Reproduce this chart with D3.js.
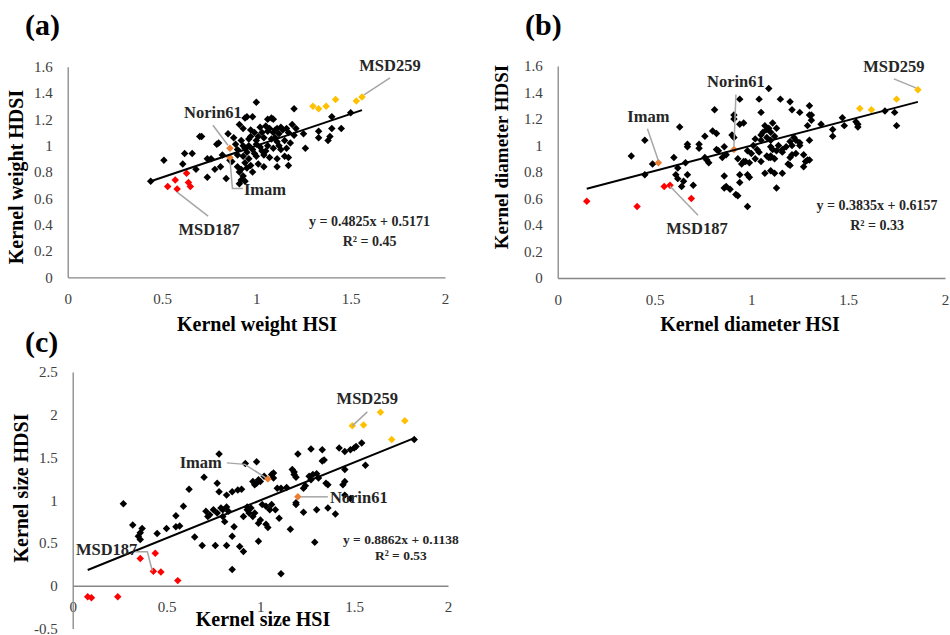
<!DOCTYPE html>
<html><head><meta charset="utf-8">
<script src="https://cdn.jsdelivr.net/npm/d3@7"></script>
<style>body{margin:0;background:#fff} svg{display:block} text{font-family:"Liberation Serif","Times New Roman",serif}</style>
</head><body><svg id="chart" width="950" height="635"></svg>
<script>
// ---------------- DATA ----------------
const xTicks = [0, 0.5, 1, 1.5, 2];
const yTicksAB = [0, 0.2, 0.4, 0.6, 0.8, 1, 1.2, 1.4, 1.6];
const yTicksC = [-0.5, 0, 0.5, 1, 1.5, 2, 2.5];
const panelLetters = ["(a)", "(b)", "(c)"];
const xTitles = ["Kernel weight HSI", "Kernel diameter HSI", "Kernel size HSI"];
const yTitles = ["Kernel weight HDSI", "Kernel diameter HDSI", "Kernel size HDSI"];
const fitSlopes = [0.4825, 0.3835, 0.8862];
const fitIntercepts = [0.5171, 0.6157, 0.1138];
const fitR2 = [0.45, 0.33, 0.53];

// (a) Kernel weight
const weightBlack = [
 [0.44,0.73],[0.51,0.89],[0.61,0.86],[0.62,0.94],[0.66,0.94],[0.70,1.07],[0.71,1.07],[0.68,0.82],[0.74,0.76],[0.74,0.90],
 [0.76,0.90],[0.78,0.82],[0.79,1.01],[0.80,1.02],[0.81,0.84],[0.82,0.93],[0.84,0.75],[0.85,1.09],[0.87,0.88],[0.86,0.89],
 [0.90,0.84],[0.91,0.80],[0.93,0.77],[0.91,0.71],[0.92,0.74],[0.94,0.73],
 [0.94,1.21],[0.95,1.22],[0.98,1.22],[1.00,1.33],[1.06,1.20],[1.08,1.21],[1.09,1.20],[1.20,1.28],[1.19,1.16],[1.21,1.13],
 [1.26,0.98],[1.25,1.09],[1.33,1.11],[1.33,1.06],[1.40,1.22],[1.40,1.13],[1.39,1.07],[1.38,1.04],[1.45,1.13],[1.50,1.25],
 [1.02,1.14],[1.05,1.15],[1.07,1.13],[1.11,1.13],[1.13,1.14],[1.16,1.13],[0.91,1.16],[0.93,1.13],
 [0.99,1.10],[1.03,1.10],[1.06,1.11],[1.09,1.10],[1.12,1.09],[1.17,1.10],[1.14,1.12],[1.10,1.12],
 [0.88,1.06],[0.92,1.04],[0.96,1.05],[1.00,1.04],[1.04,1.06],[1.08,1.05],[1.11,1.03],[1.15,1.04],[1.18,1.02],[0.97,1.07],[1.01,1.07],
 [0.90,0.97],[0.94,0.98],[0.98,0.97],[1.02,0.99],[1.05,0.96],[1.09,0.98],[1.13,0.97],[1.16,0.98],[0.96,1.00],[1.00,1.01],
 [0.90,0.93],[0.93,0.92],[0.96,0.90],[1.00,0.92],[1.04,0.93],[1.07,0.91],[1.11,0.90],[1.15,0.92],[1.17,0.91],
 [0.94,0.87],[0.97,0.85],[1.01,0.86],[1.04,0.84],[1.11,0.84],[1.17,0.85],[0.92,0.82],[0.95,0.83],[0.98,0.80],
 [0.95,0.95],[0.99,0.94],[1.03,0.96],[1.06,1.00],[1.10,1.06],[0.93,1.00],[0.97,1.12],[1.12,1.00],[1.20,1.08],[0.89,1.01]
];
const weightRed = [[0.53,0.69],[0.57,0.74],[0.58,0.67],[0.63,0.79],[0.64,0.72],[0.65,0.69]];
const weightYellow = [[1.30,1.30],[1.33,1.28],[1.37,1.30],[1.42,1.35],[1.53,1.34],[1.56,1.37]];
const weightOrange = [[0.86,0.98],[0.86,0.91]]; // Norin61, Imam

// (b) Kernel diameter
const diamBlack = [
 [0.38,0.92],[0.45,1.04],[0.49,0.86],[0.45,0.78],[0.60,0.91],[0.63,1.14],[0.66,0.87],[0.67,0.99],[0.67,1.01],
 [0.62,0.83],[0.61,0.78],[0.62,0.75],[0.65,0.73],[0.64,0.69],[0.67,0.78],[0.70,0.70],
 [0.73,1.01],[0.73,0.98],[0.76,1.07],[0.76,0.91],[0.78,0.87],[0.77,0.89],[0.81,1.27],[0.80,1.11],[0.82,1.09],
 [0.82,0.97],[0.83,0.96],[0.86,0.99],[0.87,0.93],[0.85,0.91],[0.86,0.77],[0.87,0.69],[0.89,0.67],[0.92,0.63],[0.93,0.62],[0.86,0.68],
 [0.94,1.35],[0.91,1.23],[0.91,1.20],[0.90,1.08],[0.91,1.06],[0.94,1.16],[0.96,1.17],
 [0.96,0.88],[0.93,0.90],[0.95,0.86],[0.97,0.88],[0.99,0.87],[0.94,0.78],[0.98,0.78],[0.99,0.76],[0.94,0.72],[0.98,0.54],
 [1.01,1.00],[1.03,0.97],[1.04,0.95],[1.02,1.05],[1.05,1.04],[1.06,1.10],[1.08,1.12],[1.07,1.15],[1.09,1.13],[1.10,1.10],
 [1.11,1.17],[1.12,1.07],[1.05,1.08],[1.08,1.06],[1.10,1.04],
 [1.04,1.35],[1.05,1.25],[1.09,1.43],[1.15,1.35],[1.20,1.33],[1.21,1.27],[1.25,1.25],[1.30,1.30],[1.31,1.23],[1.31,1.19],[1.36,1.16],
 [1.10,0.99],[1.11,0.97],[1.13,0.96],[1.10,0.92],[1.10,0.91],[1.16,0.97],[1.16,0.95],[1.18,0.99],[1.20,1.03],[1.22,1.06],[1.23,1.04],[1.25,1.02],
 [1.10,0.81],[1.07,0.79],[1.13,0.68],[1.19,0.86],[1.20,0.91],[1.21,0.93],[1.23,0.94],[1.27,0.93],[1.28,0.88],[1.29,0.89],
 [1.08,0.92],[1.09,0.91],[1.12,0.90],[1.12,0.79],[1.16,0.79],
 [1.42,1.12],[1.42,1.07],[1.47,1.21],[1.48,1.15],[1.54,1.18],[1.55,1.16],[1.55,1.14],[1.69,1.26],[1.74,1.25],[1.75,1.15],
 [1.00,0.94],[1.02,0.90],[0.98,0.96],[1.05,0.88],[1.13,1.13],[1.14,1.00],[1.27,0.84],[1.30,0.89],[1.20,0.85],
 [1.21,1.00],[1.25,1.00],[1.30,1.04],[1.29,1.15],[1.30,1.23]
];
const diamRed = [[0.15,0.58],[0.41,0.54],[0.55,0.69],[0.58,0.70],[0.69,0.60]];
const diamYellow = [[1.56,1.28],[1.62,1.27],[1.75,1.35],[1.86,1.42]];
const diamOrange = [[0.91,0.97],[0.52,0.87]]; // Norin61, Imam

// (c) Kernel size
const sizeBlack = [
 [1.82,1.71],[0.27,0.96],[0.32,0.71],[0.37,0.67],[0.36,0.62],[0.35,0.58],[0.36,0.54],[0.45,0.61],[0.50,0.67],[0.55,0.82],
 [0.55,0.69],[0.57,0.70],[0.59,0.93],[0.62,1.13],[0.65,0.57],[0.70,1.27],[0.69,0.47],[0.76,0.47],[0.78,1.54],[0.77,1.20],[0.78,1.10],
 [0.71,0.87],[0.73,0.83],[0.75,0.89],[0.72,0.81],[0.77,0.85],[0.79,0.91],[0.80,0.89],[0.82,0.92],[0.83,0.87],[0.80,0.81],
 [0.82,1.06],[0.85,1.10],[0.88,1.12],[0.90,1.13],[0.82,0.47],[0.81,0.75],[0.86,0.69],[0.85,0.58],[0.89,0.46],[0.91,0.40],[0.85,0.19],
 [0.91,0.81],[0.93,0.89],[0.95,0.91],[0.94,0.85],[0.96,0.81],[0.97,0.85],[0.92,1.43],[0.98,1.45],
 [0.96,1.22],[0.97,1.18],[0.98,1.20],[0.99,1.24],[1.00,1.22],[1.02,1.28],[1.06,1.30],[1.07,1.32],[1.07,1.26],
 [0.99,0.52],[0.99,0.73],[1.00,0.77],[1.03,0.72],[1.04,0.68],[1.06,0.95],[1.05,0.89],[1.08,0.89],[1.10,0.79],[1.11,0.14],
 [1.09,1.14],[1.11,1.14],[1.14,1.15],[1.17,1.36],[1.18,1.33],[1.18,1.30],[1.19,1.27],[1.16,0.66],[1.20,1.54],[1.19,0.97],[1.19,0.95],
 [1.23,1.14],[1.24,1.17],[1.26,1.28],[1.27,1.24],[1.28,1.30],[1.30,1.31],[1.31,1.26],
 [1.23,0.86],[1.27,1.60],[1.33,1.59],[1.34,1.47],[1.33,1.46],[1.30,0.89],[1.36,0.91],[1.40,0.84],[1.29,0.51],
 [1.42,1.61],[1.45,1.57],[1.36,1.18],[1.35,1.20],[1.45,1.36],[1.45,1.22],[1.48,1.59],[1.50,1.61],[1.51,1.63],[1.54,1.67],
 [1.56,1.41],[1.48,1.02],[1.44,1.18],[1.45,1.06],[0.93,0.92],[1.01,0.95],[1.03,0.93]
];
const sizeRed = [[0.36,0.32],[0.44,0.38],[0.43,0.17],[0.47,0.16],[0.56,0.06],[0.08,-0.13],[0.10,-0.14],[0.24,-0.13]];
const sizeYellow = [[1.49,1.87],[1.55,1.88],[1.64,2.03],[1.77,1.93],[1.70,1.71]];
const sizeOrange = [[1.04,1.25],[1.20,1.04]]; // Imam, Norin61

// ---------------- LAYOUT ----------------
const svg = d3.select("#chart");
const COLORS = {black:"#000000", red:"#FF0000", yellow:"#FFC000", orange:"#ED7D31"};
const AXIS = "#868686", LEADER = "#A6A6A6", LABEL = "#262626";

const panels = [
 {letter:panelLetters[0], lp:[25,35], xr:[67.7,445], yr:[277.3,66.7], yd:[0,1.6], yTicks:yTicksAB,
  xTitle:xTitles[0], xtp:[257,331], yTitle:yTitles[0], ytp:[23,177], yts:20,
  black:weightBlack, red:weightRed, yellow:weightYellow, orange:weightOrange, i:0,
  eq:[1.60,0.39], r2:[1.60,0.237], eqSize:14,
  ann:[
   {pt:weightYellow[5], text:"MSD259", path:[[2,-2],[28,-19]], t:[28,-26], anchor:"middle"},
   {pt:weightOrange[0], text:"Norin61", path:[[-2,-3],[-17,-23]], t:[-17,-30], anchor:"middle"},
   {pt:weightOrange[1], text:"Imam", path:[[0,2],[2.5,31],[13,31]], t:[14,37.5], anchor:"start"},
   {pt:weightRed[2], text:"MSD187", path:[[0,3],[31,27]], t:[32,45.5], anchor:"middle"}
  ]},
 {letter:panelLetters[1], lp:[525,35], xr:[557.7,945], yr:[278,66], yd:[0,1.6], yTicks:yTicksAB,
  xTitle:xTitles[1], xtp:[750,331], yTitle:yTitles[1], ytp:[508,157], yts:19,
  black:diamBlack, red:diamRed, yellow:diamYellow, orange:diamOrange, i:1,
  eq:[1.649,0.513], r2:[1.649,0.362], eqSize:14,
  ann:[
   {pt:diamYellow[3], text:"MSD259", path:[[-2,-2],[-24,-11]], t:[-24,-18], anchor:"middle"},
   {pt:diamOrange[0], text:"Norin61", path:[[0,-3],[2,-55]], t:[2,-62.5], anchor:"middle"},
   {pt:diamOrange[1], text:"Imam", path:[[0,-2],[-11,-34]], t:[-10,-41], anchor:"middle"},
   {pt:diamRed[3], text:"MSD187", path:[[0,1],[28,30]], t:[27,48.7], anchor:"middle"}
  ]},
 {letter:panelLetters[2], lp:[25,352], xr:[72.7,448], yr:[628.5,372], yd:[-0.5,2.5], yTicks:yTicksC,
  xTitle:xTitles[2], xtp:[263,626], yTitle:yTitles[2], ytp:[28,488], yts:20,
  black:sizeBlack, red:sizeRed, yellow:sizeYellow, orange:sizeOrange, i:2,
  eq:[1.749,0.491], r2:[1.749,0.304], eqSize:13.5,
  ann:[
   {pt:sizeYellow[0], text:"MSD259", path:[[0,0],[15,-14]], t:[15,-22], anchor:"middle"},
   {pt:sizeOrange[0], text:"Imam", path:[[-2,-1],[-23,-14.5],[-41,-16]], t:[-46,-10.5], anchor:"end"},
   {pt:sizeOrange[1], text:"Norin61", path:[[3,0],[30,0]], t:[32,6], anchor:"start"},
   {pt:sizeRed[2], text:"MSD187", path:[[-1,0],[-6,-19.5],[-18,-19.5]], t:[-16,-16], anchor:"end"}
  ]}
];

const fmt = d => String(+d.toFixed(1));
const diamond = d3.symbol().type(d3.symbolSquare).size(28);

panels.forEach(p => {
  const x = d3.scaleLinear().domain([0,2]).range(p.xr);
  const y = d3.scaleLinear().domain(p.yd).range(p.yr);
  const g = svg.append("g");

  // axes
  const xa = g.append("g").attr("transform", `translate(0,${y(0)})`)
    .call(d3.axisBottom(x).tickValues(xTicks).tickFormat(fmt).tickSize(0).tickPadding(16));
  const ya = g.append("g").attr("transform", `translate(${x(0)},0)`)
    .call(d3.axisLeft(y).tickValues(p.yTicks).tickFormat(fmt).tickSize(0).tickPadding(15));
  [xa, ya].forEach(a => {
    a.select(".domain").attr("stroke", AXIS).attr("stroke-width", 1.3);
    a.selectAll("text").attr("font-size", 15).attr("fill", "#404040")
      .attr("font-family", '"Liberation Serif", serif');
  });

  // points
  const groups = [["black", p.black], ["red", p.red], ["yellow", p.yellow], ["orange", p.orange]];
  groups.forEach(([c, arr]) => {
    g.append("g").selectAll("path").data(arr).join("path")
      .attr("d", diamond)
      .attr("transform", d => `translate(${x(d[0])},${y(d[1])}) rotate(45)`)
      .attr("fill", COLORS[c]);
  });

  // trend line
  const all = p.black.concat(p.red, p.yellow, p.orange);
  const [mn, mx] = d3.extent(all, d => d[0]);
  const f = v => fitSlopes[p.i] * v + fitIntercepts[p.i];
  g.append("path").datum([mn, mx])
    .attr("d", d3.line().x(v => x(v)).y(v => y(f(v))))
    .attr("stroke", "#000").attr("stroke-width", 2).attr("fill", "none");

  // annotations
  p.ann.forEach(a => {
    const px = x(a.pt[0]), py = y(a.pt[1]);
    g.append("path")
      .attr("d", d3.line()(a.path.map(o => [px + o[0], py + o[1]])))
      .attr("stroke", LEADER).attr("stroke-width", 1.5).attr("fill", "none");
    g.append("text").attr("x", px + a.t[0]).attr("y", py + a.t[1])
      .attr("text-anchor", a.anchor).attr("font-size", 16.5).attr("font-weight", "bold")
      .attr("fill", LABEL).text(a.text);
  });

  // equation
  g.append("text").attr("x", x(p.eq[0])).attr("y", y(p.eq[1])).attr("text-anchor", "middle")
    .attr("font-size", p.eqSize).attr("font-weight", "bold").attr("fill", LABEL)
    .text(`y = ${fitSlopes[p.i].toFixed(4)}x + ${fitIntercepts[p.i].toFixed(4)}`);
  g.append("text").attr("x", x(p.r2[0])).attr("y", y(p.r2[1])).attr("text-anchor", "middle")
    .attr("font-size", p.eqSize).attr("font-weight", "bold").attr("fill", LABEL)
    .text(`R² = ${fitR2[p.i].toFixed(2)}`);

  // titles
  g.append("text").attr("x", p.xtp[0]).attr("y", p.xtp[1]).attr("text-anchor", "middle")
    .attr("font-size", 20).attr("font-weight", "bold").attr("fill", "#000").text(p.xTitle);
  g.append("text").attr("transform", `translate(${p.ytp[0]},${p.ytp[1]}) rotate(-90)`)
    .attr("text-anchor", "middle").attr("font-size", p.yts).attr("font-weight", "bold")
    .attr("fill", "#000").text(p.yTitle);
  g.append("text").attr("x", p.lp[0]).attr("y", p.lp[1])
    .attr("font-size", 30).attr("font-weight", "bold").attr("fill", "#000").text(p.letter);
});
</script>
</body></html>
